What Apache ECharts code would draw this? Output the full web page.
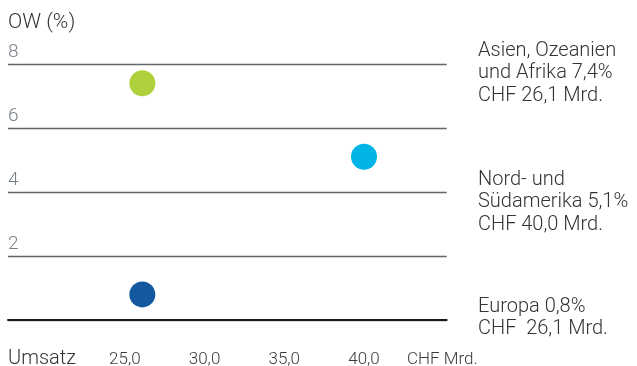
<!DOCTYPE html>
<html>
<head>
<meta charset="utf-8">
<script src="https://cdn.jsdelivr.net/npm/echarts@6/dist/echarts.min.js"></script>
<style>
html,body{margin:0;padding:0;background:#fff;}
#chart{width:637px;height:366px;}
</style>
</head>
<body>
<div id="chart"></div>
<script>
// Data
var regions = ['Asien, Ozeanien und Afrika', 'Nord- und Südamerika', 'Europa'];
var revenue = [26.1, 40.0, 26.1];      // CHF Mrd.
var margin = [7.4, 5.1, 0.8];          // OW (%)
var colors = ['#aed03a', '#00b5e6', '#1458a0'];
var regionLabels = [
  'Asien, Ozeanien\nund Afrika 7,4%\nCHF 26,1 Mrd.',
  'Nord- und\nSüdamerika 5,1%\nCHF 40,0 Mrd.',
  'Europa 0,8%\nCHF  26,1 Mrd.'
];
var xTicks = [25, 30, 35, 40];
var yTicks = [0, 2, 4, 6, 8];

var FONT = 'Roboto, "Liberation Sans", sans-serif';
var chart = echarts.init(document.getElementById('chart'));

var points = revenue.map(function (r, i) {
  return { value: [r, margin[i]], itemStyle: { color: colors[i], opacity: 1 } };
});

var labelTops = [39.5, 168.5, 295.5];

chart.setOption({
  animation: false,
  grid: { left: 8, right: 190.3, top: 64, bottom: 46, containLabel: false, outerBoundsMode: 'none' },
  xAxis: {
    type: 'value',
    min: 17.676,
    max: 45.186,
    splitLine: { show: false },
    axisTick: { show: false },
    axisLine: { show: true, lineStyle: { color: '#1a1a1a', width: 2 } },
    axisLabel: {
      customValues: xTicks,
      margin: 31.5,
      fontFamily: FONT,
      fontWeight: 300,
      fontSize: 17,
      color: '#3a3a3a',
      formatter: function (v) { return v.toFixed(1).replace('.', ','); }
    }
  },
  yAxis: {
    type: 'value',
    min: yTicks[0],
    max: yTicks[yTicks.length - 1],
    interval: 2,
    name: 'OW (%)',
    nameLocation: 'end',
    nameGap: 31,
    nameTextStyle: {
      align: 'left', verticalAlign: 'bottom',
      fontFamily: FONT, fontWeight: 300, fontSize: 21, color: '#333'
    },
    axisLine: { show: false },
    axisTick: { show: false },
    splitLine: { show: true, lineStyle: { color: '#5f666d', width: 1.4 } },
    axisLabel: {
      inside: true,
      margin: 0,
      verticalAlign: 'bottom',
      padding: [0, 0, 2, 0],
      fontFamily: FONT,
      fontWeight: 300,
      fontSize: 19,
      color: '#7a8088',
      formatter: function (v) { return v === 0 ? '' : String(v); }
    }
  },
  series: [{
    type: 'scatter',
    symbol: 'circle',
    symbolSize: 26,
    data: points
  }],
  graphic: [
    {
      type: 'text', left: 8, top: 349,
      style: { text: 'Umsatz', font: '300 20px ' + FONT, fill: '#333' }
    },
    {
      type: 'text', left: 407, top: 351.5,
      style: { text: 'CHF Mrd.', font: '300 17px ' + FONT, fill: '#3a3a3a' }
    }
  ].concat(regionLabels.map(function (t, i) {
    return {
      type: 'text', left: 478, top: labelTops[i],
      style: { text: t, font: '300 20px ' + FONT, fill: '#333', lineHeight: 22.5 }
    };
  }))
});
</script>
</body>
</html>
